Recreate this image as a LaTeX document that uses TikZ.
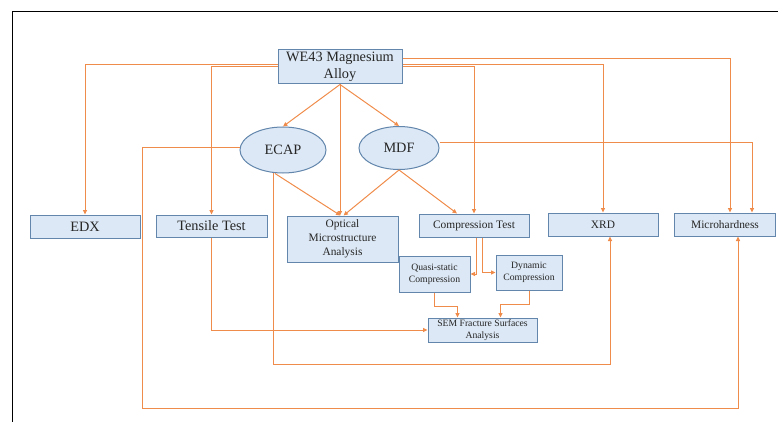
\documentclass[tikz,border=0pt]{standalone}
\usepackage{fontspec}
\setmainfont{Liberation Serif}
\usetikzlibrary{arrows, positioning, shapes}
\usetikzlibrary{arrows.meta}

\definecolor{flow}{RGB}{240,140,75}
\definecolor{boxline}{RGB}{98,134,172}
\definecolor{boxfill}{RGB}{220,232,245}

\begin{document}
\begin{tikzpicture}[
	x=1pt, y=-1pt,
	->,
	>={Triangle[length=4.5pt,width=4pt]},
	line width=1pt,
	box/.style={draw=boxline, fill=boxfill, inner sep=0pt, align=center, text=black!85},
	proc/.style={ellipse, draw=boxline, fill=boxfill, inner sep=0pt, text=black!85},
	big/.style={font=\fontsize{14.3}{17}\selectfont},
	mid/.style={font=\fontsize{11.4}{14}\selectfont},
	small/.style={font=\fontsize{9.7}{11.7}\selectfont}
]
\useasboundingbox (0,0) rectangle (778,422);
\draw[-, black, line width=0.8pt] (778,11) -- (12,11) -- (12,422);

\node[box, big, minimum width=124pt, minimum height=34pt] (we43) at (340,67) {WE43 Magnesium\\Alloy};
\node[proc, big, minimum width=86pt, minimum height=46pt] (ecap) at (283,150) {ECAP};
\node[proc, big, minimum width=80pt, minimum height=43pt] (mdf) at (399,148) {MDF};

\node[box, big, minimum width=110pt, minimum height=23pt] (edx) at (85,226.5) {EDX};
\node[box, big, minimum width=111pt, minimum height=22pt] (tens) at (211.5,226) {Tensile Test};
\node[box, mid, minimum width=111pt, minimum height=46pt] (opt) at (342.5,239) {Optical\\Microstructure\\Analysis};
\node[box, mid, minimum width=110pt, minimum height=23pt] (comp) at (474,225.5) {Compression Test};
\node[box, mid, minimum width=110pt, minimum height=23pt] (xrd) at (603,224.5) {XRD};
\node[box, mid, minimum width=101pt, minimum height=23pt] (hard) at (725,224.5) {Microhardness};

\node[box, small, minimum width=71pt, minimum height=36pt] (quasi) at (434.5,274) {Quasi-static\\Compression};
\node[box, small, minimum width=66pt, minimum height=35pt] (dyn) at (529,272.5) {Dynamic\\Compression};
\node[box, small, minimum width=109pt, minimum height=24pt] (sem) at (482.5,330) {SEM Fracture Surfaces\\Analysis};

{
\tikzstyle{every edge}=[draw=flow]
% alloy to processing and tests
\path (we43.south) edge (ecap.north)
		edge (mdf.north)
		edge (we43.south |- opt.north);
\draw[flow] ([yshift=2pt]we43.west) -| (edx.north);
\draw[flow] (we43.west) -| (tens.north);
\draw[flow] ([yshift=8pt]we43.east) -| ([xshift=5pt]hard.north);
\draw[flow] ([yshift=2pt]we43.east) -| (xrd.north);
\draw[flow] (we43.east) -| (comp.north);

% processing routes
\path ([xshift=-8pt]ecap.south) edge ([xshift=-2pt]opt.north)
	(mdf.south) edge ([xshift=1pt]opt.north)
		edge ([xshift=-17pt]comp.north);
\draw[flow] ([xshift=-10pt]ecap.south) |- ++(337,191) -- ([xshift=7pt]xrd.south);
\draw[flow] ([yshift=2pt]ecap.west) -| ++(-97,260) -| ([xshift=13pt]hard.south);
\draw[flow] ([yshift=5pt]mdf.east) -| ([xshift=27pt]hard.north);

% compression branch
\draw[flow] ([xshift=2pt]comp.south) |- (quasi.east);
\draw[flow] ([xshift=8pt]comp.south) |- (dyn.west);
\draw[flow] (quasi.south) -- ++(0,14) -| ([xshift=-25pt]sem.north);
\draw[flow] (dyn.south) -- ++(0,14) -| ([xshift=18pt]sem.north);
\draw[flow] (tens.south) |- (sem.west);
}
\end{tikzpicture}
\end{document}
